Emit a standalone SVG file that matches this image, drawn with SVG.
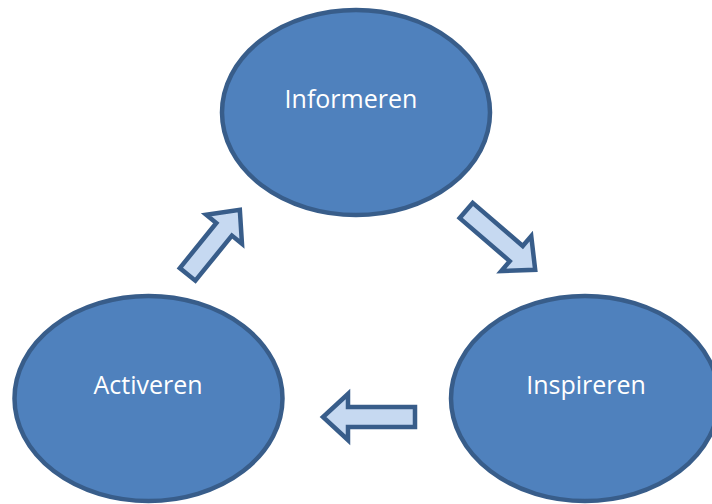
<svg xmlns="http://www.w3.org/2000/svg" width="712" height="504" viewBox="0 0 712 504">
<style>
.node{fill:#4F81BD;stroke:#385D8A;stroke-width:4.5}
.lbl{font-family:"Open Sans","Noto Sans",sans-serif;font-size:25px;fill:#FFFFFF;text-anchor:middle}
.arr{fill:#C6D9F1;stroke:#385D8A;stroke-width:4.5;stroke-linejoin:miter}
</style>
<rect width="712" height="504" fill="#FFFFFF"/>
<g id="informeren">
<ellipse class="node" cx="356" cy="112.5" rx="134" ry="102.5"/>
<text class="lbl" x="351" y="108">Informeren</text>
</g>
<g id="inspireren">
<ellipse class="node" cx="585" cy="398.5" rx="134" ry="102.5"/>
<text class="lbl" x="586" y="394">Inspireren</text>
</g>
<g id="activeren">
<ellipse class="node" cx="148.5" cy="398.5" rx="134" ry="102.5"/>
<text class="lbl" x="148" y="394">Activeren</text>
</g>
<g id="connectors">
<path class="arr" transform="translate(466.2,210.5) rotate(40.7)" d="M0,-10 H66 V-23 L91,0 L66,23 V10 H0 Z"/>
<path class="arr" transform="translate(415,417) rotate(180)" d="M0,-10 H67 V-23 L92,0 L67,23 V10 H0 Z"/>
<path class="arr" transform="translate(187.6,274.4) rotate(-51)" d="M0,-10 H58 V-23 L83,0 L58,23 V10 H0 Z"/>
</g>
</svg>
